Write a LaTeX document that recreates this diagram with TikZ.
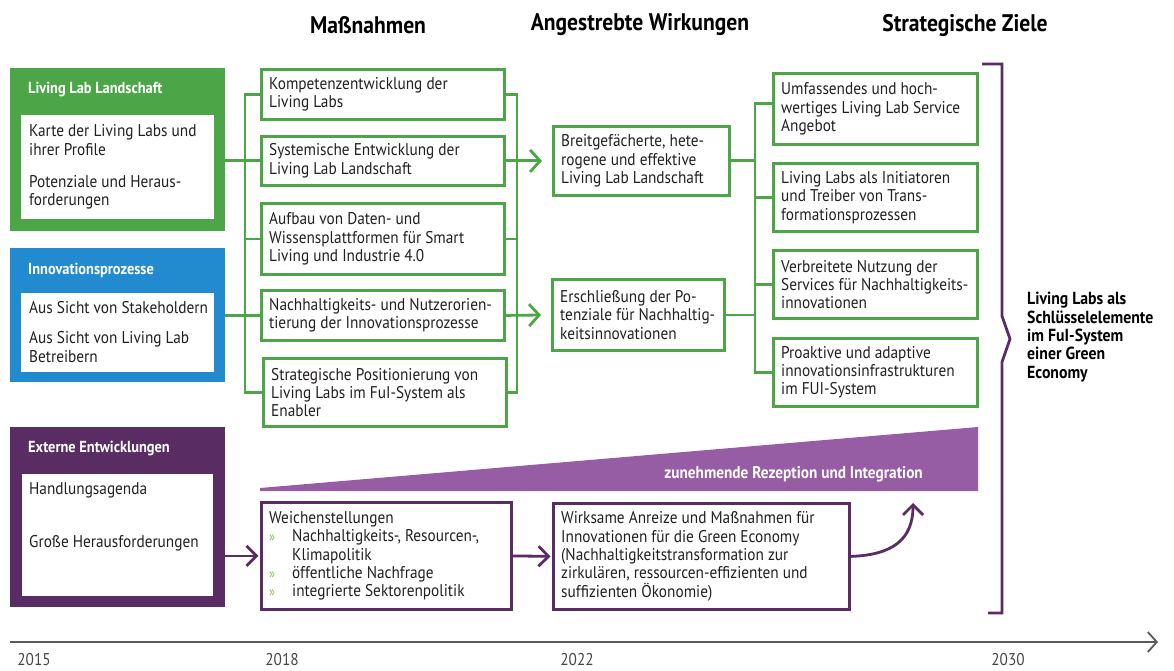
\documentclass[tikz,border=0pt]{standalone}
\usepackage{fontspec}
\setmainfont{PT Sans}[FakeStretch=0.9]
\usetikzlibrary{arrows.meta}
\definecolor{lgreen}{RGB}{76,166,72}
\definecolor{lblue}{RGB}{34,139,207}
\definecolor{dpurple}{RGB}{90,44,100}
\definecolor{wedgec}{RGB}{150,93,165}
\definecolor{bulc}{RGB}{130,195,80}
\definecolor{txtc}{RGB}{35,31,32}
\definecolor{axisc}{RGB}{90,90,90}
\definecolor{yearc}{RGB}{70,70,70}
\newcommand\bodyf{\fontsize{17}{18.3}\selectfont}
\newcommand\titlef{\fontsize{16}{17}\selectfont\bfseries}
\newcommand\headf{\fontsize{24}{26}\selectfont\bfseries}
\newcommand\bandf{\fontsize{17}{18}\selectfont\bfseries}
\newcommand\goalf{\fontsize{17.5}{18.3}\selectfont\bfseries}
\newcommand\yearf{\fontsize{17}{18}\selectfont}
\newcommand\bul{\makebox[23pt][l]{\textcolor{bulc}{\fontsize{14}{14}\selectfont »}}}
\tikzset{
  box/.style={draw=lgreen, line width=2.8pt, fill=white, anchor=north west, inner sep=0pt},
  pbox/.style={box, draw=dpurple},
  lbl/.style={anchor=west, xshift=9pt, align=left, inner sep=0pt, font=\bodyf, text=txtc},
  bt/.style={label={[lbl]west:{#1}}},
  panel/.style={anchor=north west, inner sep=0pt},
  inner/.style={anchor=north west, inner sep=0pt, fill=white},
  ptitle/.style={anchor=west, inner sep=0pt, text=white, font=\titlef},
  ptext/.style={anchor=west, inner sep=0pt, align=left, font=\bodyf, text=txtc},
  gline/.style={draw=lgreen, line width=2.8pt},
  garrow/.style={gline, -{Straight Barb[length=10pt,width=22pt]}},
  parrow/.style={draw=dpurple, line width=2.8pt, -{Straight Barb[length=10pt,width=20pt]}},
  head/.style={font=\headf, text=black, inner sep=0pt},
  year/.style={font=\yearf, text=yearc, inner sep=0pt},
}
\begin{document}
\begin{tikzpicture}[x=1pt,y=-1pt]
\useasboundingbox (0,0) rectangle (1174,671);

% headers
\node[head] (h1) at (368,25) {Maßnahmen};
\node[head] (h2) at (640,25) {Angestrebte Wirkungen};
\node[head] (h3) at (965,25) {Strategische Ziele};

% left panels
\node[panel, fill=lgreen, minimum width=215pt, minimum height=163pt] (LL) at (10,68) {};
\node[ptitle] (LLt) at (28,90) {Living Lab Landschaft};
\node[inner, minimum width=193pt, minimum height=104pt] (LLw) at (21,115) {};
\node[ptext] (LLa) at (29,140) {Karte der Living Labs und\\ihrer Profile};
\node[ptext] (LLb) at (29,192) {Potenziale und Heraus-\\forderungen};

\node[panel, fill=lblue, minimum width=215pt, minimum height=134pt] (IP) at (10,248) {};
\node[ptitle] (IPt) at (28,270) {Innovationsprozesse};
\node[inner, minimum width=193pt, minimum height=79pt] (IPw) at (21,293) {};
\node[ptext] (IPa) at (29,308) {Aus Sicht von Stakeholdern};
\node[ptext] (IPb) at (29,347) {Aus Sicht von Living Lab\\Betreibern};

\node[panel, fill=dpurple, minimum width=215pt, minimum height=180pt] (EE) at (10,427) {};
\node[ptitle] (EEt) at (28,449) {Externe Entwicklungen};
\node[inner, minimum width=191pt, minimum height=122pt] (EEw) at (22,474) {};
\node[ptext] (EEa) at (29,490) {Handlungsagenda};
\node[ptext] (EEb) at (29,543) {Große Herausforderungen};

% Massnahmen
\node[box, minimum width=243pt, minimum height=50pt, bt={Kompetenzentwicklung der\\Living Labs}] (M1) at (260,68) {};
\node[box, minimum width=243pt, minimum height=49pt, bt={Systemische Entwicklung der\\Living Lab Landschaft}] (M2) at (260,135) {};
\node[box, minimum width=243pt, minimum height=71pt, bt={Aufbau von Daten- und\\Wissensplattformen für Smart\\Living und Industrie 4.0}] (M3) at (260,202) {};
\node[box, minimum width=243pt, minimum height=50pt, bt={Nachhaltigkeits- und Nutzerorien-\\tierung der Innovationsprozesse}] (M4) at (260,289) {};
\node[box, minimum width=243pt, minimum height=68pt, bt={Strategische Positionierung von\\Living Labs im FuI-System als\\Enabler}] (M5) at (262,357) {};

% Wirkungen
\node[box, minimum width=176pt, minimum height=69pt, bt={Breitgefächerte, hete-\\rogene und effektive\\Living Lab Landschaft}] (W1) at (552,125) {};
\node[box, minimum width=172pt, minimum height=71pt, bt={Erschließung der Po-\\tenziale für Nachhaltig-\\keitsinnovationen}] (W2) at (551,278) {};

% Ziele
\node[box, minimum width=204pt, minimum height=71pt, bt={Umfassendes und hoch-\\wertiges Living Lab Service\\Angebot}] (Z1) at (772,72) {};
\node[box, minimum width=204pt, minimum height=68pt, bt={Living Labs als Initiatoren\\und Treiber von Trans-\\formationsprozessen}] (Z2) at (772,162) {};
\node[box, minimum width=204pt, minimum height=68pt, bt={Verbreitete Nutzung der\\Services für Nachhaltigkeits-\\innovationen}] (Z3) at (772,249) {};
\node[box, minimum width=204pt, minimum height=68pt, bt={Proaktive und adaptive\\innovationsinfrastrukturen\\im FUI-System}] (Z4) at (772,337) {};

% green connectors
\coordinate (bl) at (245,0);
\coordinate (br) at (517,0);
\coordinate (bz) at (755,0);
\draw[gline] (M1.west) -- (M1.west -| bl) -- (M5.west -| bl) -- (M5.west);
\draw[gline] (LL.east |- M2.west) -- (M2.west);
\draw[gline] (M3.west) -- (M3.west -| bl);
\draw[gline] (IP.east |- M4.west) -- (M4.west);
\draw[gline] (M1.east) -- (M1.east -| br) -- (M5.east -| br) -- (M5.east);
\draw[gline] (M3.east) -- (M3.east -| br);
\draw[garrow, shorten >=10pt] (M2.east) -- (W1.west);
\draw[garrow, shorten >=10pt] (M4.east) -- (W2.west);
\draw[gline] ([yshift=5.5pt]Z1.west) -- ([yshift=5.5pt]Z1.west -| bz) -- (Z4.west -| bz) -- (Z4.west);
\draw[gline] (Z2.west) -- (Z2.west -| bz);
\draw[gline] (Z3.west) -- (Z3.west -| bz);
\draw[gline] (W1.east) -- (W1.east -| bz);
\draw[gline] (W2.east) -- (W2.east -| bz);

% bracket and goal
\draw[dpurple, line width=2.8pt] (982,64) -- (1002,64) -- (1002,316) -- (1010,339) -- (1002,362) -- (1002,613) -- (988,613);
\node[anchor=west, align=left, font=\goalf, text=black, inner sep=0pt] (goal) at (1027,337) {Living Labs als\\Schlüsselelemente\\im FuI-System\\einer Green\\Economy};

% wedge
\fill[wedgec] (260,491) -- (260,488) -- (978,427) -- (978,491) -- cycle;
\node[anchor=east, font=\bandf, text=white, inner sep=0pt] (band) at (923,474) {zunehmende Rezeption und Integration};

% bottom boxes
\node[pbox, minimum width=250pt, minimum height=107pt, label={[lbl]west:{Weichenstellungen\\\bul Nachhaltigkeits-, Resourcen-,\\\hspace*{23pt}Klimapolitik\\\bul öffentliche Nachfrage\\\bul integrierte Sektorenpolitik}}] (WS) at (260,501) {};
\node[pbox, minimum width=296pt, minimum height=106pt, bt={Wirksame Anreize und Maßnahmen für\\Innovationen für die Green Economy\\(Nachhaltigkeitstransformation zur\\zirkulären, ressourcen-effizienten und\\suffizienten Ökonomie)}] (WA) at (552,502) {};

\draw[parrow, shorten >=1.5pt] (EE.east |- WS.west) -- (WS.west);
\draw[parrow, shorten >=1.5pt] (WS.east) -- (WA.west);
\coordinate (ct) at (913,503);
\draw[parrow] (WA.east) .. controls (892,555) and (913,540) .. (ct);

% time axis
\coordinate (ax0) at (10,642);
\coordinate (ax1) at (1158,642);
\draw[axisc, line width=1.8pt, -{Straight Barb[length=9pt,width=20pt]}] (ax0) -- (ax1);
\node[year] (y1) at (34,660) {2015};
\node[year] (y2) at (282,660) {2018};
\node[year] (y3) at (577,660) {2022};
\node[year] (y4) at (1008,660) {2030};
\end{tikzpicture}
\end{document}
